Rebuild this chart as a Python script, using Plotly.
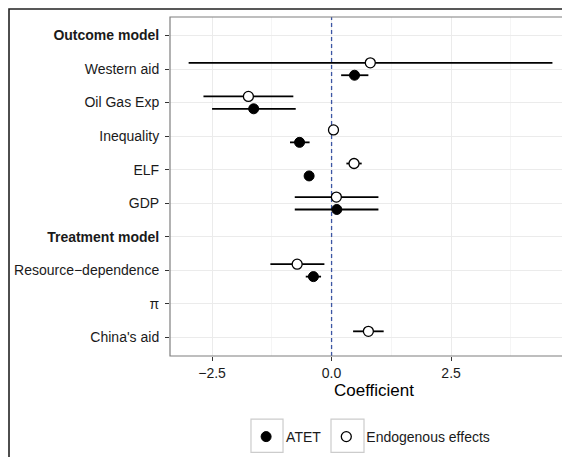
import plotly.graph_objects as go

categories = ["<b>Outcome model</b>", "Western aid", "Oil Gas Exp", "Inequality", "ELF", "GDP",
              "<b>Treatment model</b>", "Resource−dependence", "π", "China's aid"]

atet_est = [None, 0.48, -1.63, -0.67, -0.47, 0.11, None, -0.38, None, None]
atet_lo = [None, 0.20, -2.50, -0.87, -0.56, -0.77, None, -0.54, None, None]
atet_hi = [None, 0.77, -0.75, -0.46, -0.39, 0.98, None, -0.22, None, None]

endo_est = [None, 0.81, -1.74, 0.04, 0.47, 0.10, None, -0.72, None, 0.77]
endo_lo = [None, -2.99, -2.68, 0.02, 0.31, -0.77, None, -1.28, None, 0.45]
endo_hi = [None, 4.62, -0.80, 0.06, 0.63, 0.98, None, -0.15, None, 1.09]

x_ticks = [-2.5, 0.0, 2.5]
x_ticktext = ["−2.5", "0.0", "2.5"]
ref_x = 0.0

dodge = 0.185
pos = list(range(1, len(categories) + 1))
y_range = [len(categories) + 0.55, 0.45]


def build(est, lo, hi, shift):
    xs, ys, ep, em = [], [], [], []
    for p, e, l, h in zip(pos, est, lo, hi):
        if e is None:
            continue
        xs.append(e)
        ys.append(p + shift)
        ep.append(h - e)
        em.append(e - l)
    return xs, ys, ep, em


fig = go.Figure()

# reference line at zero (drawn first, beneath the points)
fig.add_trace(go.Scatter(
    x=[ref_x, ref_x], y=y_range, mode="lines", showlegend=False, hoverinfo="skip",
    line=dict(color="#3b55a3", width=1.3, dash="4px,3px"),
))

ax, ay, aep, aem = build(atet_est, atet_lo, atet_hi, dodge)
ex, ey, eep, eem = build(endo_est, endo_lo, endo_hi, -dodge)

fig.add_trace(go.Scatter(
    x=ax, y=ay, mode="markers", name="ATET",
    error_x=dict(type="data", array=aep, arrayminus=aem, width=0, thickness=1.8, color="black"),
    marker=dict(symbol="circle", size=10, color="black", line=dict(color="black", width=1)),
))
fig.add_trace(go.Scatter(
    x=ex, y=ey, mode="markers", name="Endogenous effects",
    error_x=dict(type="data", array=eep, arrayminus=eem, width=0, thickness=1.8, color="black"),
    marker=dict(symbol="circle", size=10, color="white", line=dict(color="black", width=1.3)),
))

# panel border (left, top, bottom) in grey
fig.add_shape(type="rect", xref="paper", yref="paper", x0=0, x1=1.05, y0=0, y1=1,
              line=dict(color="#7f7f7f", width=1.2), fillcolor="rgba(0,0,0,0)", layer="above")
# outer frame
fig.add_shape(type="rect", xref="paper", yref="paper", x0=-0.3946, x1=1.5, y0=-0.5, y1=1.0236,
              line=dict(color="#222222", width=1.6), fillcolor="rgba(0,0,0,0)", layer="above")
# legend key boxes
for bx0, bx1 in [(0.1985, 0.277), (0.3946, 0.4755)]:
    fig.add_shape(type="rect", xref="paper", yref="paper", x0=bx0, x1=bx1, y0=-0.284, y1=-0.186,
                  line=dict(color="#cccccc", width=1.2), fillcolor="rgba(0,0,0,0)", layer="above")

fig.update_layout(
    width=570, height=457,
    margin=dict(l=162, r=0, t=9, b=109),
    paper_bgcolor="white", plot_bgcolor="white",
    font=dict(family="Liberation Sans, Arial, sans-serif", size=14, color="#1a1a1a"),
    showlegend=True,
    legend=dict(orientation="h", x=0.4917, xanchor="center", y=-0.239, yanchor="middle",
                font=dict(size=14, color="#1a1a1a"), itemsizing="trace",
                bgcolor="rgba(0,0,0,0)", traceorder="normal"),
    xaxis=dict(range=[-3.38, 5.155], tickvals=x_ticks, ticktext=x_ticktext,
               showgrid=True, gridcolor="#ebebeb", gridwidth=1.2,
               minor=dict(tick0=-1.25, dtick=2.5, showgrid=True, gridcolor="#f5f5f5", gridwidth=1),
               ticks="outside", ticklen=4, tickcolor="#333333", tickwidth=1.2,
               zeroline=False, showline=False,
               title=dict(text="Coefficient", font=dict(size=17, color="#000000"), standoff=0),
               tickfont=dict(size=14, color="#1a1a1a")),
    yaxis=dict(range=y_range, tickvals=pos, ticktext=categories,
               showgrid=True, gridcolor="#ebebeb", gridwidth=1.2,
               ticks="outside", ticklen=4, tickcolor="#333333", tickwidth=1.2,
               ticklabelstandoff=3,
               zeroline=False, showline=False,
               tickfont=dict(size=14, color="#1a1a1a")),
)

fig.write_html("out.html")
